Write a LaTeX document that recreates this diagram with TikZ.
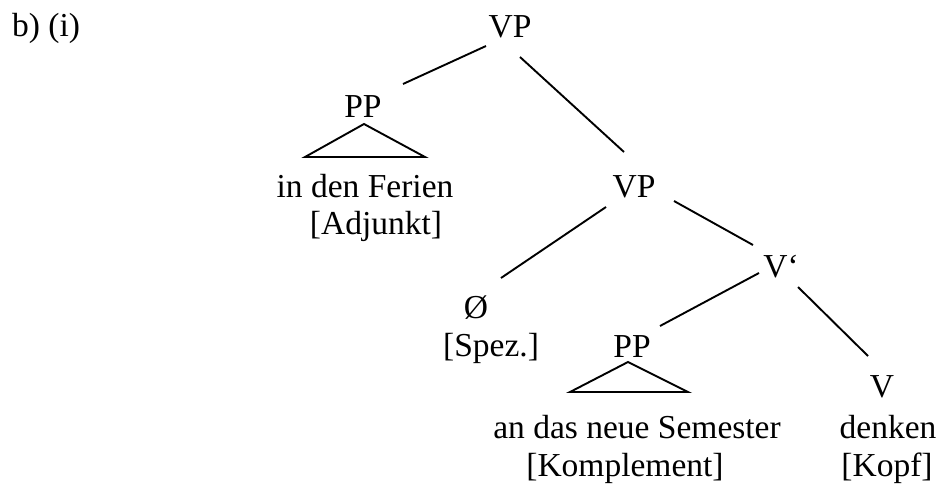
\documentclass[tikz,border=0pt]{standalone}
\usepackage{fontspec}
\setmainfont{Liberation Serif}
\tikzset{
  lbl/.style={inner sep=0pt, anchor=base, font=\fontsize{33.5}{40}\selectfont},
  edge/.style={line width=1.9pt},
  tri/.style={line width=1.9pt, line join=miter}
}
\begin{document}
\begin{tikzpicture}[x=1pt,y=1pt]
\useasboundingbox (0,0) rectangle (943,-493);
\node[lbl, anchor=base west] (title) at (12,-36) {b) (i)};
\node[lbl] (vp1) at (510,-37) {VP};
\node[lbl] (pp1) at (363,-117) {PP};
\node[lbl] (ferien) at (365,-197) {in den Ferien};
\node[lbl] (adj) at (376,-234) {[Adjunkt]};
\node[lbl] (vp2) at (634,-197) {VP};
\node[lbl] (vbar) at (781,-277) {V‘};
\node[lbl] (empty) at (476,-318) {Ø};
\node[lbl] (spez) at (491,-356) {[Spez.]};
\node[lbl] (pp2) at (632,-357) {PP};
\node[lbl] (v) at (882,-397) {V};
\node[lbl] (sem) at (637,-438) {an das neue Semester};
\node[lbl] (denken) at (888,-438) {denken};
\node[lbl] (kompl) at (625,-476) {[Komplement]};
\node[lbl] (kopf) at (887,-476) {[Kopf]};
% connectors
\draw[edge] ([shift={(-24,-9)}]vp1.base) -- ([shift={(40,33)}]pp1.base);
\draw[edge] ([shift={(10,-20)}]vp1.base) -- ([shift={(-10,45)}]vp2.base);
\draw[edge] ([shift={(-28,-10)}]vp2.base) -- ([shift={(25,40)}]empty.base);
\draw[edge] ([shift={(40,-4)}]vp2.base) -- ([shift={(-28,32)}]vbar.base);
\draw[edge] ([shift={(-22,4)}]vbar.base) -- ([shift={(28,31)}]pp2.base);
\draw[edge] ([shift={(17,-10)}]vbar.base) -- ([shift={(-14,41)}]v.base);
% triangles
\draw[tri] ([shift={(1,-7)}]pp1.base) -- ([shift={(-58,-40)}]pp1.base) -- ([shift={(62,-40)}]pp1.base) -- cycle;
\draw[tri] ([shift={(-4,-5)}]pp2.base) -- ([shift={(-62,-35)}]pp2.base) -- ([shift={(56,-35)}]pp2.base) -- cycle;
\end{tikzpicture}
\end{document}
